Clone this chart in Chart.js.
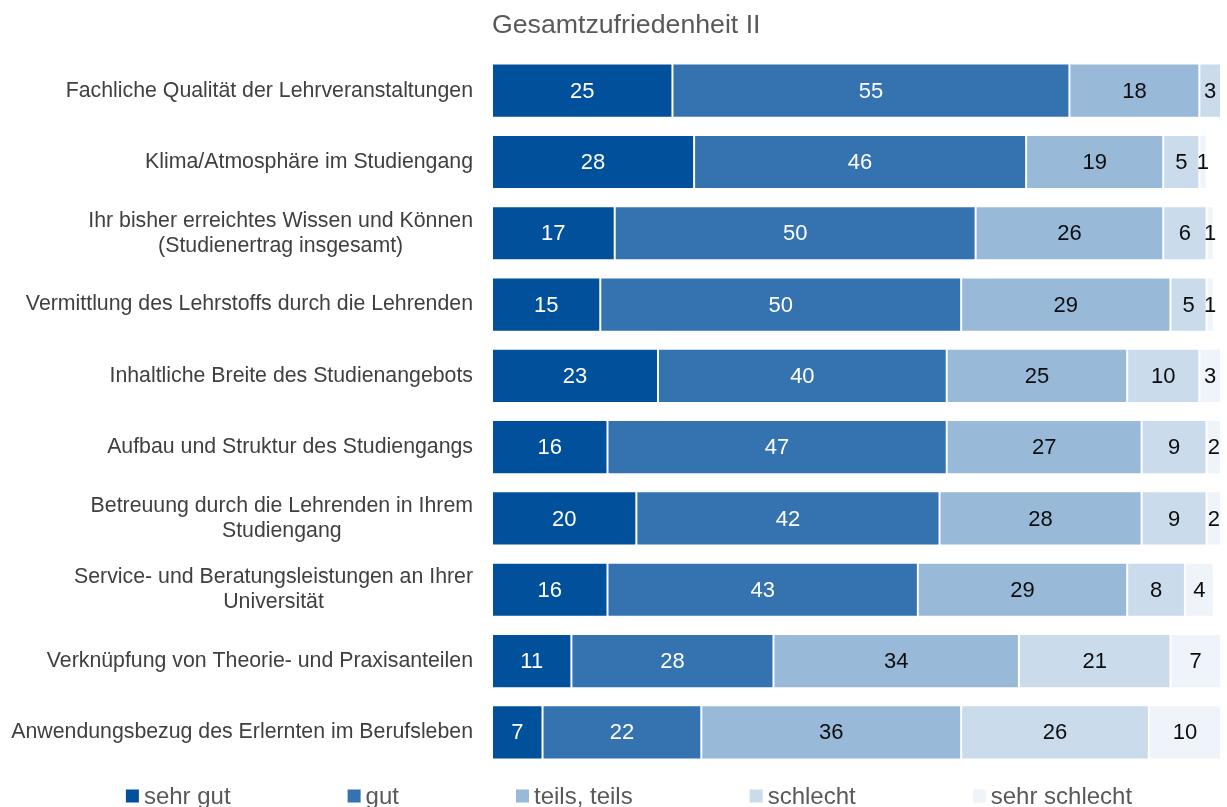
<!DOCTYPE html>
<html lang="de">
<head>
<meta charset="utf-8">
<title>Gesamtzufriedenheit II</title>
<script src="https://cdn.jsdelivr.net/npm/chart.js@4"></script>
<style>
    html, body { margin: 0; padding: 0; background: #ffffff; }
    #wrap { width: 1227px; height: 807px; position: relative; }
</style>
</head>
<body>
<div id="wrap"><canvas id="chart"></canvas></div>
<script>
// Kategorien (mehrzeilige Beschriftungen als Array)
const categories = [
    ['Fachliche Qualität der Lehrveranstaltungen'],
    ['Klima/Atmosphäre im Studiengang'],
    ['Ihr bisher erreichtes Wissen und Können', '(Studienertrag insgesamt)'],
    ['Vermittlung des Lehrstoffs durch die Lehrenden'],
    ['Inhaltliche Breite des Studienangebots'],
    ['Aufbau und Struktur des Studiengangs'],
    ['Betreuung durch die Lehrenden in Ihrem', 'Studiengang'],
    ['Service- und Beratungsleistungen an Ihrer', 'Universität'],
    ['Verknüpfung von Theorie- und Praxisanteilen'],
    ['Anwendungsbezug des Erlernten im Berufsleben'],
];

// Werte in Prozent
const sehrGut      = [25, 28, 17, 15, 23, 16, 20, 16, 11, 7];
const gut          = [55, 46, 50, 50, 40, 47, 42, 43, 28, 22];
const teilsTeils   = [18, 19, 26, 29, 25, 27, 28, 29, 34, 36];
const schlecht     = [3, 5, 6, 5, 10, 9, 9, 8, 21, 26];
const sehrSchlecht = [0, 1, 1, 1, 3, 2, 2, 4, 7, 10];

const seriesNames = ['sehr gut', 'gut', 'teils, teils', 'schlecht', 'sehr schlecht'];
const seriesColors = ['#00509b', '#3473b0', '#98b9d8', '#cadbeb', '#eff4fa'];
const labelColors = ['#ffffff', '#ffffff', '#0d0d0d', '#0d0d0d', '#0d0d0d'];

const FONT = '"Liberation Sans", Arial, sans-serif';

/**
 * Werte mittig in die Balkensegmente schreiben
 */
const valueLabels = {
    id: 'valueLabels',
    afterDatasetsDraw(chart) {
        const ctx = chart.ctx;
        ctx.save();
        ctx.font = '22px ' + FONT;
        ctx.textAlign = 'center';
        ctx.textBaseline = 'middle';
        chart.data.datasets.forEach((ds, di) => {
            const meta = chart.getDatasetMeta(di);
            meta.data.forEach((bar, i) => {
                const v = ds.data[i];
                if (!v) return;
                const p = bar.getProps(['x', 'y', 'base'], true);
                ctx.fillStyle = labelColors[di];
                ctx.fillText(String(v), (p.x + p.base) / 2, p.y + 1);
            });
        });
        ctx.restore();
    },
};

/**
 * Kategorien links: Block rechtsbündig, Zeilen zentriert
 */
const categoryLabels = {
    id: 'categoryLabels',
    afterDraw(chart) {
        const ctx = chart.ctx;
        const yScale = chart.scales.y;
        const right = yScale.right - 19;
        const lineH = 25;
        ctx.save();
        ctx.font = '21.3px ' + FONT;
        ctx.fillStyle = '#404040';
        ctx.textAlign = 'center';
        ctx.textBaseline = 'middle';
        categories.forEach((lines, i) => {
            const y = yScale.getPixelForTick(i);
            const w = Math.max(...lines.map(l => ctx.measureText(l).width));
            const cx = right - w / 2;
            const y0 = y - (lines.length - 1) * lineH / 2;
            lines.forEach((l, k) => ctx.fillText(l, cx, y0 + k * lineH));
        });
        ctx.restore();
    },
};

/**
 * Legende unten (eigene Zeichnung, weite Abstände wie im Original)
 */
const bottomLegend = {
    id: 'bottomLegend',
    afterDraw(chart) {
        const ctx = chart.ctx;
        const box = 13;
        const gap = 117;
        const y = chart.height - 11;
        ctx.save();
        ctx.font = '24px ' + FONT;
        ctx.textBaseline = 'middle';
        const widths = seriesNames.map(n => box + 5 + ctx.measureText(n).width);
        const total = widths.reduce((a, b) => a + b, 0) + gap * (widths.length - 1);
        let x = 629 - total / 2;
        seriesNames.forEach((name, i) => {
            ctx.fillStyle = seriesColors[i];
            ctx.fillRect(x, y - box / 2, box, box);
            ctx.fillStyle = '#595959';
            ctx.fillText(name, x + box + 5, y + 1);
            x += widths[i] + gap;
        });
        ctx.restore();
    },
};

const rawSeries = [sehrGut, gut, teilsTeils, schlecht, sehrSchlecht];

const datasets = rawSeries.map((values, i) => ({
    label: seriesNames[i],
    data: values,
    backgroundColor: seriesColors[i],
    borderColor: 'rgba(255,255,255,0.2)',
    borderWidth: 1,
    borderSkipped: false,
    barPercentage: 1,
    categoryPercentage: 0.76,
}));

new Chart(document.getElementById('chart'), {
    type: 'bar',
    data: {
        labels: categories,
        datasets: datasets,
    },
    options: {
        indexAxis: 'y',
        responsive: true,
        maintainAspectRatio: false,
        animation: false,
        layout: {
            padding: { left: 0, right: 6, top: 0, bottom: 39 },
        },
        scales: {
            x: {
                stacked: true,
                display: false,
                min: 0,
                max: 101,
            },
            y: {
                stacked: true,
                grid: { display: false },
                border: { display: false },
                ticks: {
                    color: 'transparent',
                    font: { family: FONT, size: 19 },
                },
                afterFit(scale) {
                    scale.width = 492;
                },
            },
        },
        plugins: {
            title: {
                display: true,
                text: 'Gesamtzufriedenheit II',
                align: 'start',
                fullSize: false,
                color: '#595959',
                font: { family: FONT, size: 26.7, weight: 'normal' },
                padding: { top: 10, bottom: 13 },
            },
            legend: { display: false },
            tooltip: { enabled: false },
        },
    },
    plugins: [valueLabels, categoryLabels, bottomLegend],
});
</script>
</body>
</html>
